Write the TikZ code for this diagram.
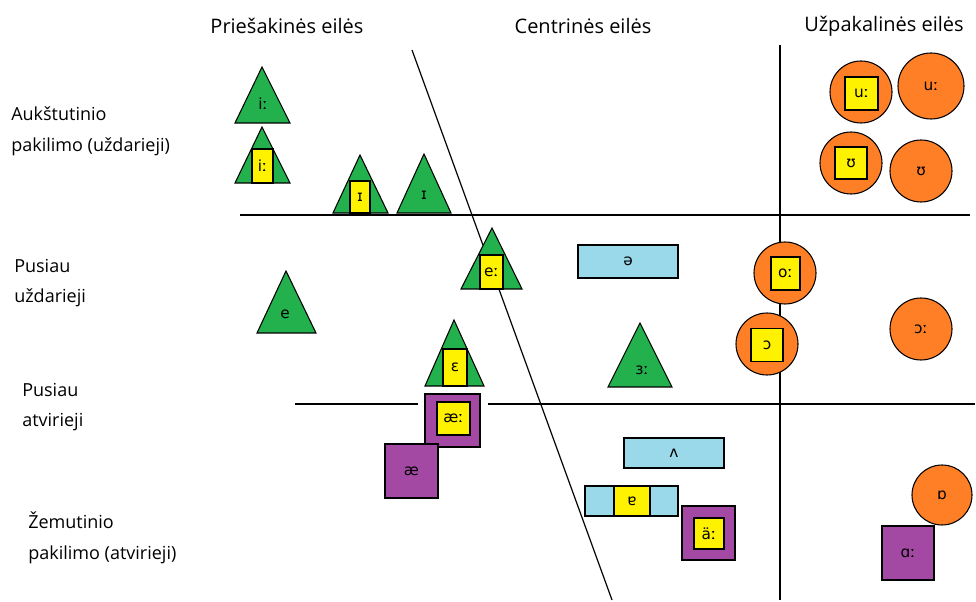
\documentclass[tikz,border=0pt]{standalone}
\usepackage{fontspec}
\setmainfont{Open Sans}
\newfontfamily\symfont{DejaVu Sans}
\definecolor{tgreen}{RGB}{34,177,76}
\definecolor{tyel}{RGB}{255,242,0}
\definecolor{torange}{RGB}{255,127,39}
\definecolor{tpurple}{RGB}{163,73,164}
\definecolor{tblue}{RGB}{153,217,234}
\newcommand\symsize{\symfont\fontsize{11.5}{13}\selectfont}
\begin{document}
\begin{tikzpicture}[x=0.75pt,y=-0.75pt,
  lab/.style={font=\fontsize{13.5}{23}\selectfont, align=left, anchor=west, inner sep=0pt},
  head/.style={font=\fontsize{15}{17}\selectfont, inner sep=0pt},
  rule/.style={draw=black, line width=0.9pt},
  tri/.style={fill=tgreen, draw=black, line width=0.8pt, line join=miter},
  ybox/.style={fill=tyel, draw=black, line width=1pt, inner sep=0pt, font=\symsize},
  sym/.style={font=\symsize, inner sep=0pt},
  circ/.style={circle, fill=torange, draw=black, line width=0.8pt, minimum size=46.5pt, inner sep=0pt, font=\symsize},
  bbox/.style={rectangle, fill=tblue, draw=black, line width=0.9pt, inner sep=0pt, font=\symsize},
  pbox/.style={rectangle, fill=tpurple, draw=black, line width=0.9pt, inner sep=0pt, font=\symsize}]
\useasboundingbox (0,0) rectangle (976,602);

% headers
\node[head] (h1) at (287,26) {Priešakinės eilės};
\node[head] (h2) at (583,26) {Centrinės eilės};
\node[head] (h3) at (884,26) {Užpakalinės eilės};

% row labels
\node[lab] (l1) at (11,131) {Aukštutinio\\pakilimo (uždarieji)};
\node[lab] (l2) at (14,283) {Pusiau\\uždarieji};
\node[lab] (l3) at (22,407) {Pusiau\\atvirieji};
\node[lab] (l4) at (28,538) {Žemutinio\\pakilimo (atvirieji)};

% grid lines
\coordinate (hA1) at (240,215); \coordinate (hA2) at (970,215);
\coordinate (hB1) at (295,404); \coordinate (hB2) at (975,404);
\coordinate (gB1) at (418,404); \coordinate (gB2) at (488,404);
\coordinate (v1) at (780,45); \coordinate (v2) at (780,600);
\coordinate (d1) at (412,50); \coordinate (d2) at (612,600);
\draw[rule] (hA1) -- (hA2);
\draw[rule] (hB1) -- (gB1);
\draw[rule] (gB2) -- (hB2);
\draw[rule] (v1) -- (v2);
\draw[rule] (d1) -- (d2);

% green triangles
\draw[tri] (235,123) -- (262,67) -- (290,123) -- cycle;
\node[sym] (ii1) at (263,104) {iː};
\draw[tri] (235,183) -- (262,127) -- (290,183) -- cycle;
\node[ybox, minimum width=15.75pt, minimum height=25.5pt] (ii2) at (262.5,166) {iː};
\draw[tri] (333,213) -- (360,155) -- (388,213) -- cycle;
\node[ybox, minimum width=15pt, minimum height=24pt] (ih1) at (360,197) {ɪ};
\draw[tri] (397,213) -- (424,154) -- (451,213) -- cycle;
\node[sym] (ih2) at (424,195) {ɪ};
\draw[tri] (461,289) -- (492,228) -- (522,289) -- cycle;
\node[ybox, minimum width=17.25pt, minimum height=25.5pt] (ee1) at (491.5,272) {eː};
\draw[tri] (257,333) -- (286,271) -- (316,333) -- cycle;
\node[sym] (e1) at (285,314) {e};
\draw[tri] (425,386) -- (454,320) -- (484,386) -- cycle;
\node[ybox, minimum width=18pt, minimum height=27.75pt] (eps) at (455,367.5) {ɛ};
\draw[tri] (608,387) -- (640,323) -- (672,387) -- cycle;
\node[sym] (er) at (642,370) {ɜː};

% blue rectangles
\node[bbox, minimum width=75pt, minimum height=24.75pt] (schwa) at (628,261.5) {ə};
\node[bbox, minimum width=75pt, minimum height=22.5pt] (wedge) at (674,453) {ʌ};
\node[bbox, minimum width=69.75pt, minimum height=22.5pt] (turna) at (631.5,501) {};
\node[ybox, minimum width=27pt, minimum height=22.5pt] (turnay) at (632,501) {ɐ};

% purple squares
\node[pbox, minimum width=41.25pt, minimum height=39.75pt] (aeL) at (452.5,420.5) {};
\node[ybox, minimum width=24.75pt, minimum height=24.75pt] (aeLy) at (453.5,418.5) {æː};
\node[pbox, minimum width=39.75pt, minimum height=40.5pt] (ae) at (411.5,471) {æ};
\node[pbox, minimum width=39.75pt, minimum height=40.5pt] (auml) at (708.5,533) {};
\node[ybox, minimum width=22.5pt, minimum height=23.25pt] (aumly) at (709,533.5) {äː};
\node[pbox, minimum width=39pt, minimum height=40.5pt] (alpha) at (908,553) {ɑː};

% orange circles
\node[circ] (uu1) at (861,92) {};
\node[ybox, minimum width=24.75pt, minimum height=24.75pt] (uu1y) at (861.5,93.5) {uː};
\node[circ, minimum size=49.5pt] (uu2) at (931,86) {uː};
\node[circ] (up1) at (851,163) {};
\node[ybox, minimum width=24pt, minimum height=24pt] (up1y) at (851,163) {ʊ};
\node[circ] (up2) at (921,171) {ʊ};
\node[circ] (oo1) at (785,273) {};
\node[ybox, minimum width=21.75pt, minimum height=24.75pt] (oo1y) at (785.5,273.5) {oː};
\node[circ] (oc1) at (767,344) {};
\node[ybox, minimum width=24pt, minimum height=24.75pt] (oc1y) at (767,345) {ɔ};
\node[circ] (oc2) at (921,329) {ɔː};
\node[circ, minimum size=45pt] (ob) at (942,495) {ɒ};
\end{tikzpicture}
\end{document}
